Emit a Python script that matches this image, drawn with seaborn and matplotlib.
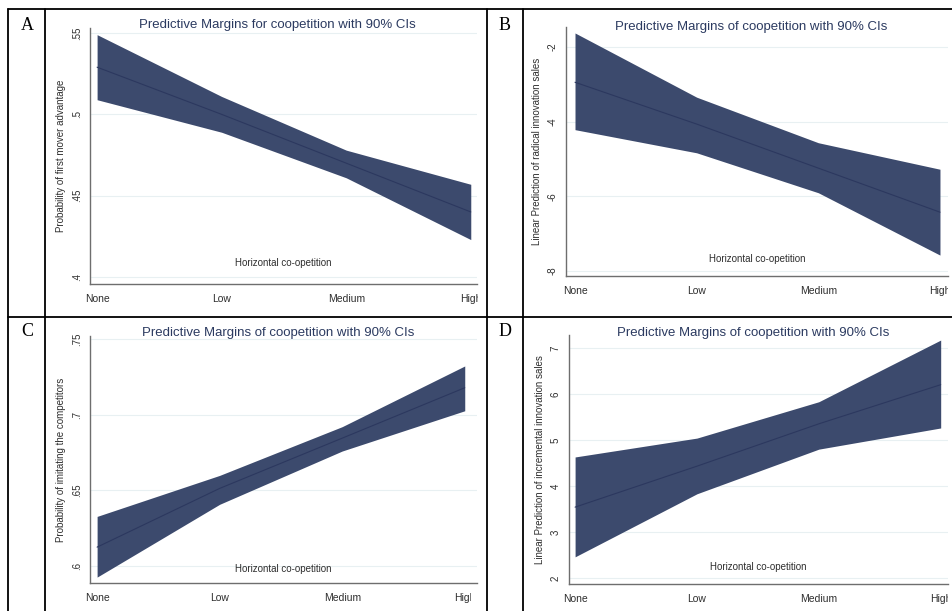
import numpy as np
import pandas as pd
import seaborn as sns
import matplotlib.pyplot as plt
from matplotlib.transforms import Bbox, TransformedBbox

# categories on the x axis
levels = ['None', 'Low', 'Medium', 'High']

# panel A: probability of first mover advantage
a_mean = [0.529, 0.500, 0.470, 0.440]
a_low = [0.509, 0.489, 0.461, 0.423]
a_high = [0.549, 0.511, 0.478, 0.457]

# panel B: linear prediction of radical innovation sales
b_mean = [-2.94, -4.06, -5.24, -6.42]
b_low = [-4.21, -4.83, -5.90, -7.57]
b_high = [-1.62, -3.34, -4.56, -5.27]

# panel C: probability of imitating the competitors
c_mean = [0.6125, 0.6513, 0.6845, 0.7178]
c_low = [0.5927, 0.6408, 0.6760, 0.7026]
c_high = [0.6328, 0.6599, 0.6921, 0.7322]

# panel D: linear prediction of incremental innovation sales
d_mean = [3.54, 4.43, 5.35, 6.20]
d_low = [2.46, 3.83, 4.80, 5.26]
d_high = [4.63, 5.04, 5.83, 7.17]

a_ticks = [0.40, 0.45, 0.50, 0.55]
a_ticklabels = ['.4', '.45', '.5', '.55']
b_ticks = [-8, -6, -4, -2]
b_ticklabels = ['-8', '-6', '-4', '-2']
c_ticks = [0.60, 0.65, 0.70, 0.75]
c_ticklabels = ['.6', '.65', '.7', '.75']
d_ticks = [2, 3, 4, 5, 6, 7]
d_ticklabels = ['2', '3', '4', '5', '6', '7']

titles = ['Predictive Margins for coopetition with 90% CIs',
          'Predictive Margins of coopetition with 90% CIs',
          'Predictive Margins of coopetition with 90% CIs',
          'Predictive Margins of coopetition with 90% CIs']
ylabels = ['Probability of first mover advantage',
           'Linear Prediction of radical innovation sales',
           'Probability of imitating the competitors',
           'Linear Prediction of incremental innovation sales']
letters = ['A', 'B', 'C', 'D']

sns.set_style('white')
plt.rcParams['font.family'] = ['Liberation Sans', 'DejaVu Sans']

W, H = 952, 611
fig = plt.figure(figsize=(W / 100, H / 100), dpi=100)

BAND = '#3c4a6d'
LINE = '#2c385f'
TITLE_C = '#2b3a60'
TXT = '#2e2e2e'

# pixel layout of each panel: axes box (left, top, right, bottom), xlim, ylim, title y, xtitle frac, letter pos
panels = [
    dict(box=(90, 28, 477, 284), xlim=(-0.057, 3.05), ylim=(0.3957, 0.5531),
         ty=25, xt=0.082, lp=(27, 25), clip=478,
         mean=a_mean, low=a_low, high=a_high, ticks=a_ticks, tl=a_ticklabels),
    dict(box=(566, 27, 948, 276), xlim=(-0.074, 3.066), ylim=(-8.13, -1.46),
         ty=27, xt=0.068, lp=(505, 25), clip=948,
         mean=b_mean, low=b_low, high=b_high, ticks=b_ticks, tl=b_ticklabels),
    dict(box=(90, 336, 477, 583), xlim=(-0.058, 3.1), ylim=(0.5888, 0.752),
         ty=333, xt=0.057, lp=(27, 332), clip=471,
         mean=c_mean, low=c_low, high=c_high, ticks=c_ticks, tl=c_ticklabels),
    dict(box=(569, 335, 948, 584), xlim=(-0.05, 3.06), ylim=(1.87, 7.28),
         ty=333, xt=0.068, lp=(505, 332), clip=948,
         mean=d_mean, low=d_low, high=d_high, ticks=d_ticks, tl=d_ticklabels),
]

x = np.arange(len(levels))

for i, p in enumerate(panels):
    l, t, r, b = p['box']
    ax = fig.add_axes([l / W, 1 - b / H, (r - l) / W, (b - t) / H])
    ax.set_facecolor('white')
    df = pd.DataFrame({'x': x, 'mean': p['mean'], 'low': p['low'], 'high': p['high']})
    ax.fill_between(df['x'], df['low'], df['high'], color=BAND, lw=0, zorder=2)
    sns.lineplot(data=df, x='x', y='mean', ax=ax, color=LINE, lw=0.8, zorder=3)
    ax.set_xlim(*p['xlim'])
    ax.set_ylim(*p['ylim'])
    ax.set_xticks(x)
    ax.set_xticklabels(levels, fontsize=7.5, color=TXT)
    ax.set_yticks(p['ticks'])
    ax.set_yticklabels(p['tl'], fontsize=7, color=TXT, rotation=90, va='center')
    ax.grid(axis='y', color='#e8f0f2', lw=0.8, zorder=0)
    ax.grid(axis='x', visible=False)
    for s in ['top', 'right']:
        ax.spines[s].set_visible(False)
    for s in ['left', 'bottom']:
        ax.spines[s].set_color('#6e6e6e')
        ax.spines[s].set_linewidth(1.0)
    ax.tick_params(axis='both', length=3, width=0.8, color='#6e6e6e', pad=3, direction='out')
    ax.tick_params(axis='x', pad=4)
    ax.set_xlabel('')
    ax.set_ylabel(ylabels[i], fontsize=7, color=TXT, labelpad=4)
    ax.text(0.5, p['xt'], 'Horizontal co-opetition', transform=ax.transAxes,
            ha='center', va='center', fontsize=7, color=TXT)
    # the last tick label is cut off at the edge of the cell
    clipbox = TransformedBbox(Bbox([[0, 0], [p['clip'] / W, 1]]), fig.transFigure)
    for lab in ax.get_xticklabels():
        lab.set_clip_box(clipbox)
        lab.set_clip_on(True)
    cx = (l + r) / 2 / W
    fig.text(cx - 0.006, 1 - p['ty'] / H, titles[i], ha='center', va='center',
             fontsize=9.5, color=TITLE_C)
    fig.text(p['lp'][0] / W, 1 - p['lp'][1] / H, letters[i], ha='center', va='center',
             fontsize=13, family=['Liberation Serif', 'DejaVu Serif'], color='black')

# table borders around the panels
def hline(y, x0=8, x1=W):
    fig.add_artist(plt.Line2D([x0 / W, x1 / W], [1 - y / H, 1 - y / H], color='black', lw=1.3))

def vline(xp, y0=9, y1=H):
    fig.add_artist(plt.Line2D([xp / W, xp / W], [1 - y0 / H, 1 - y1 / H], color='black', lw=1.3))

hline(9)
hline(317)
for xp in [8, 45, 487, 523]:
    vline(xp)

fig.savefig('out.png', dpi=100)
